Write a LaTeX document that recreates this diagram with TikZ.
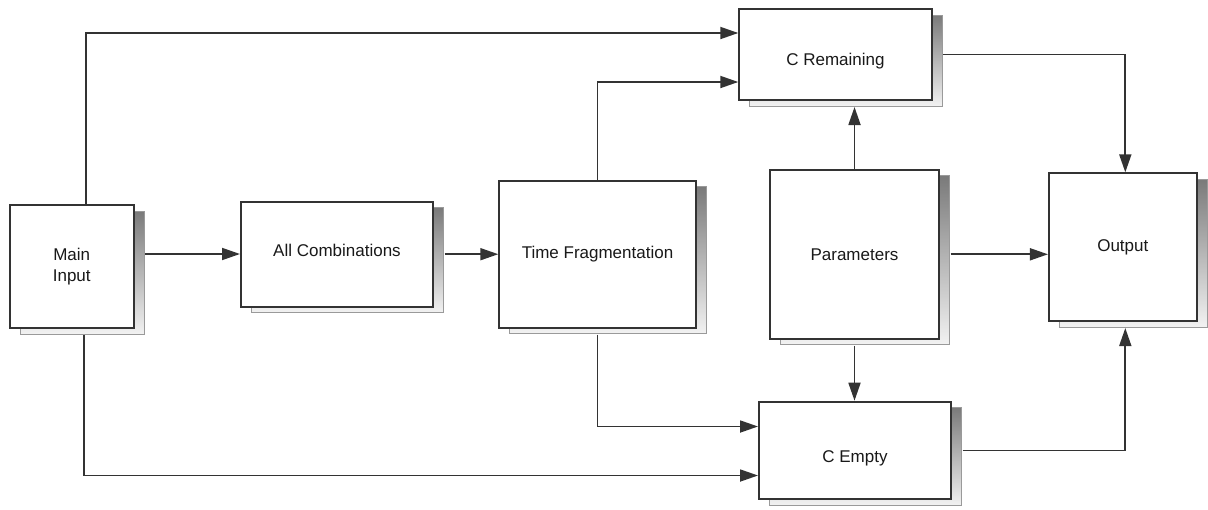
\documentclass[tikz,border=0pt]{standalone}
\usepackage{fontspec}
\setmainfont{Liberation Sans}
\usetikzlibrary{arrows.meta,shadows,calc}
\definecolor{ink}{HTML}{333333}
\definecolor{shtop}{HTML}{7A7A7A}
\definecolor{shbot}{HTML}{F2F2F2}
\definecolor{shline}{HTML}{9A9A9A}
\newcommand{\shiftdown}[2]{\raisebox{-#1}[\height][\depth]{#2}}
\tikzset{
  blockbox/.style={draw=ink, line width=2pt, fill=white, inner sep=0pt,
    font=\fontsize{17}{20.5}\selectfont, text=black!90, align=center,
    general shadow={shadow xshift=10.5pt, shadow yshift=-6pt,
      top color=shtop, bottom color=shbot, draw=shline, line width=1pt}},
  arr/.style={draw=ink, line width=1.8pt, -{Triangle[length=18pt,width=12pt]}},
}
\begin{document}
\begin{tikzpicture}[x=1pt,y=-1pt]
\useasboundingbox (0,0) rectangle (1208,509);
% boxes
\node[blockbox, minimum width=123.5pt, minimum height=123pt] (main) at (71.75,266.5) {Main\\Input};
\node[blockbox, minimum width=192pt, minimum height=105pt] (allc) at (337,254.2) {\shiftdown{-4pt}{All Combinations}};
\node[blockbox, minimum width=196.4pt, minimum height=147pt] (timef) at (597.5,254.2) {Time Fragmentation};
\node[blockbox, minimum width=169pt, minimum height=168.7pt] (params) at (854.5,254.3) {Parameters};
\node[blockbox, minimum width=147.7pt, minimum height=147.7pt] (output) at (1122.8,247.2) {Output};
\node[blockbox, minimum width=192.4pt, minimum height=91pt] (crem) at (835.5,54.5) {\shiftdown{7pt}{C Remaining}};
\node[blockbox, minimum width=192pt, minimum height=97.6pt] (cempty) at (855,450.5) {\shiftdown{7.5pt}{C Empty}};
% helper coordinates at shadow edges
\coordinate (mainE) at ([xshift=10.5pt,yshift=12.5pt]main.east);
\coordinate (paramsE) at ([xshift=10.5pt]params.east);
\coordinate (cremSB) at ([yshift=-6pt]crem.south);
% connectors
\draw[arr] ([xshift=14.5pt]main.north) |- ([yshift=21.5pt]crem.west);
\draw[arr] (timef.north) |- ([yshift=-27.5pt]crem.west);
\draw[arr] (mainE) -- (mainE -| allc.west);
\draw[arr] ([xshift=10.5pt]allc.east) -- (timef.west);
\draw[arr] (paramsE) -- (paramsE -| output.west);
\draw[arr] (params.north) -- (params.north |- cremSB);
\draw[arr] ([yshift=-6pt]params.south) -- (params.south |- cempty.north);
\draw[arr] ([xshift=10.5pt]crem.east) -| ([xshift=2.5pt]output.north);
\draw[arr] ([xshift=10.5pt]cempty.east) -| ([xshift=2.5pt,yshift=-6pt]output.south);
\draw[arr] ([yshift=-6pt]timef.south) |- ([yshift=24pt]cempty.west);
\draw[arr] ([xshift=12.2pt,yshift=-6pt]main.south) |- ([yshift=-25pt]cempty.west);
\end{tikzpicture}
\end{document}
